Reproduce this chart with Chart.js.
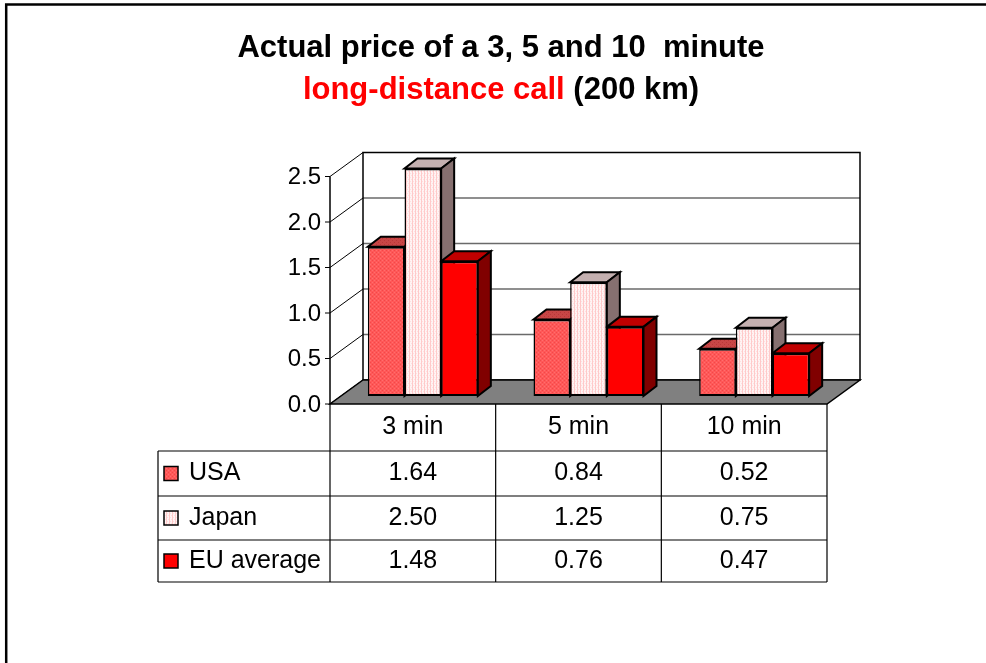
<!DOCTYPE html>
<html>
<head>
<meta charset="utf-8">
<script src="https://cdn.jsdelivr.net/npm/chart.js@4"></script>
<style>
  html, body { margin: 0; padding: 0; background: #ffffff; }
  canvas { display: block; }
</style>
</head>
<body>
<canvas id="chart" width="986" height="663"></canvas>
<script>
// Call prices (200 km long-distance), per call length
const categories = ['3 min', '5 min', '10 min'];
const seriesNames = ['USA', 'Japan', 'EU average'];
const usa = [1.64, 0.84, 0.52];
const japan = [2.50, 1.25, 0.75];
const euAverage = [1.48, 0.76, 0.47];
const yTicks = [0, 0.5, 1.0, 1.5, 2.0, 2.5];

const FONT = '"Liberation Sans", Arial, sans-serif';

// Small repeating fills for the textured faces
function makePattern(w, h, painter) {
  const c = document.createElement('canvas');
  c.width = w; c.height = h;
  const g = c.getContext('2d');
  painter(g);
  return document.getElementById('chart').getContext('2d').createPattern(c, 'repeat');
}
const usaFront = makePattern(4, 4, g => {
  g.fillStyle = '#ff5858'; g.fillRect(0, 0, 4, 4);
  g.fillStyle = '#f24848'; g.fillRect(0, 0, 1, 1); g.fillRect(2, 2, 1, 1);
  g.fillStyle = '#ff6e6e'; g.fillRect(2, 0, 1, 1); g.fillRect(0, 2, 1, 1);
});
const usaTop = makePattern(4, 4, g => {
  g.fillStyle = '#c84646'; g.fillRect(0, 0, 4, 4);
  g.fillStyle = '#b83838'; g.fillRect(0, 0, 1, 1); g.fillRect(2, 2, 1, 1);
});
const japanFront = makePattern(3, 4, g => {
  g.fillStyle = '#fff4f4'; g.fillRect(0, 0, 3, 4);
  g.fillStyle = '#ffcaca'; g.fillRect(1, 0, 1, 4);
  g.fillStyle = '#ffe0e0'; g.fillRect(2, 1, 1, 1); g.fillRect(0, 3, 1, 1);
});

const frontFill = [usaFront, japanFront, '#ff0000'];
const topFill = [usaTop, '#c4b0b0', '#c00000'];
const sideFill = ['#a03030', '#867070', '#800000'];

// Oblique depth offsets relative to the bar front plane
const FRONT = { dx: -10, dy: 8 };
const BACK = { dx: 23, dy: -16 };
const BAR_DEPTH = { dx: 13, dy: -10 };

const tableRows = { headerH: 47, rowH: [45, 44, 42], labelLeft: 158 };

const box3d = {
  id: 'box3d',
  beforeDatasetsDraw(chart) {
    const ctx = chart.ctx;
    const ys = chart.scales.y;
    const L = chart.chartArea.left, R = chart.chartArea.right;
    const y0 = ys.getPixelForValue(0);
    const yMax = ys.getPixelForValue(ys.max);
    ctx.save();
    ctx.lineJoin = 'miter';

    // back wall
    ctx.fillStyle = '#ffffff';
    ctx.fillRect(L + BACK.dx, yMax + BACK.dy, R - L, y0 - yMax);
    // gridlines on back wall
    ctx.strokeStyle = '#6a6a6a';
    ctx.lineWidth = 1.5;
    yTicks.forEach(v => {
      if (v === 0 || v === ys.max) return;
      const p = ys.getPixelForValue(v) + BACK.dy;
      ctx.beginPath();
      ctx.moveTo(L + BACK.dx, p);
      ctx.lineTo(R + BACK.dx, p);
      ctx.stroke();
    });
    ctx.strokeStyle = '#000';
    ctx.lineWidth = 1.5;
    ctx.strokeRect(L + BACK.dx, yMax + BACK.dy, R - L, y0 - yMax);

    // side wall with diagonal tick lines
    ctx.lineWidth = 1;
    yTicks.forEach(v => {
      const p = ys.getPixelForValue(v);
      ctx.beginPath();
      ctx.moveTo(L + FRONT.dx, p + FRONT.dy);
      ctx.lineTo(L + BACK.dx, p + BACK.dy);
      ctx.stroke();
      // tick mark
      ctx.beginPath();
      ctx.moveTo(L + FRONT.dx - 5, p + FRONT.dy);
      ctx.lineTo(L + FRONT.dx, p + FRONT.dy);
      ctx.stroke();
    });
    ctx.lineWidth = 1.5;
    ctx.beginPath();
    ctx.moveTo(L + FRONT.dx, y0 + FRONT.dy);
    ctx.lineTo(L + FRONT.dx, yMax + FRONT.dy);
    ctx.stroke();

    // floor
    ctx.beginPath();
    ctx.moveTo(L + FRONT.dx, y0 + FRONT.dy);
    ctx.lineTo(R + FRONT.dx, y0 + FRONT.dy);
    ctx.lineTo(R + BACK.dx, y0 + BACK.dy);
    ctx.lineTo(L + BACK.dx, y0 + BACK.dy);
    ctx.closePath();
    ctx.fillStyle = '#808080';
    ctx.fill();
    ctx.strokeStyle = '#000';
    ctx.lineWidth = 1.5;
    ctx.stroke();

    // tops and sides of the columns, left to right
    ctx.lineWidth = 2;
    for (let i = 0; i < categories.length; i++) {
      for (let d = 0; d < chart.data.datasets.length; d++) {
        const bar = chart.getDatasetMeta(d).data[i];
        const { x, y, base, width } = bar.getProps(['x', 'y', 'base', 'width'], true);
        const l = x - width / 2, r = x + width / 2;
        // top
        ctx.beginPath();
        ctx.moveTo(l, y);
        ctx.lineTo(r, y);
        ctx.lineTo(r + BAR_DEPTH.dx, y + BAR_DEPTH.dy);
        ctx.lineTo(l + BAR_DEPTH.dx, y + BAR_DEPTH.dy);
        ctx.closePath();
        ctx.fillStyle = topFill[d];
        ctx.fill();
        ctx.stroke();
        // side
        ctx.beginPath();
        ctx.moveTo(r, y);
        ctx.lineTo(r + BAR_DEPTH.dx, y + BAR_DEPTH.dy);
        ctx.lineTo(r + BAR_DEPTH.dx, base + BAR_DEPTH.dy);
        ctx.lineTo(r, base);
        ctx.closePath();
        ctx.fillStyle = sideFill[d];
        ctx.fill();
        ctx.stroke();
      }
    }
    ctx.restore();
  },
  afterDraw(chart) {
    const ctx = chart.ctx;
    const xs = chart.scales.x, ys = chart.scales.y;
    const L = chart.chartArea.left, R = chart.chartArea.right;
    const y0 = ys.getPixelForValue(0);
    ctx.save();

    // value axis labels on the front edge
    ctx.fillStyle = '#000';
    ctx.font = '24px ' + FONT;
    ctx.textAlign = 'right';
    ctx.textBaseline = 'middle';
    yTicks.forEach(v => {
      const p = ys.getPixelForValue(v) + FRONT.dy;
      ctx.fillText(v.toFixed(1), L + FRONT.dx - 9, p + 1);
    });

    // data table
    ctx.font = '25px ' + FONT;
    const catW = (R - L) / categories.length;
    const colEdges = categories.map((c, i) => xs.getPixelForValue(i) - catW / 2 + FRONT.dx);
    colEdges.push(xs.getPixelForValue(categories.length - 1) + catW / 2 + FRONT.dx);
    const top = y0 + FRONT.dy;
    const headerBottom = top + tableRows.headerH;
    const rowEdges = [headerBottom];
    tableRows.rowH.forEach(h => rowEdges.push(rowEdges[rowEdges.length - 1] + h));
    const bottom = rowEdges[rowEdges.length - 1];
    const left = tableRows.labelLeft;
    const right = colEdges[colEdges.length - 1];

    ctx.strokeStyle = '#000';
    ctx.lineWidth = 1.2;
    ctx.beginPath();
    colEdges.forEach(cx => { ctx.moveTo(cx, top); ctx.lineTo(cx, bottom); });
    ctx.moveTo(left, headerBottom); ctx.lineTo(left, bottom);
    rowEdges.forEach(ry => { ctx.moveTo(left, ry); ctx.lineTo(right, ry); });
    ctx.stroke();

    ctx.textAlign = 'center';
    ctx.textBaseline = 'middle';
    categories.forEach((c, i) => {
      ctx.fillText(c, xs.getPixelForValue(i) + FRONT.dx, (top + headerBottom) / 2);
    });
    chart.data.datasets.forEach((ds, d) => {
      const cy = (rowEdges[d] + rowEdges[d + 1]) / 2;
      ds.data.forEach((v, i) => {
        ctx.textAlign = 'center';
        ctx.fillText(v.toFixed(2), xs.getPixelForValue(i) + FRONT.dx, cy);
      });
      // legend key
      ctx.fillStyle = frontFill[d];
      ctx.fillRect(left + 6, cy - 7, 14, 14);
      ctx.strokeStyle = '#000';
      ctx.lineWidth = 1.5;
      ctx.strokeRect(left + 6, cy - 7, 14, 14);
      ctx.fillStyle = '#000';
      ctx.textAlign = 'left';
      ctx.fillText(ds.label, left + 31, cy);
    });

    // title
    ctx.font = 'bold 31px ' + FONT;
    ctx.textBaseline = 'alphabetic';
    ctx.textAlign = 'center';
    ctx.fillStyle = '#000';
    const cx = 501;
    ctx.fillText('Actual price of a 3, 5 and 10  minute', cx, 57);
    const partA = 'long-distance call', partB = ' (200 km)';
    const wA = ctx.measureText(partA).width, wB = ctx.measureText(partB).width;
    const startX = cx - (wA + wB) / 2;
    ctx.textAlign = 'left';
    ctx.fillStyle = '#ff0000';
    ctx.fillText(partA, startX, 99);
    ctx.fillStyle = '#000';
    ctx.fillText(partB, startX + wA, 99);

    // outer frame
    ctx.strokeStyle = '#000';
    ctx.lineWidth = 2.5;
    ctx.strokeRect(6.2, 4.5, 1200, 1000);
    ctx.restore();
  }
};

new Chart(document.getElementById('chart'), {
  type: 'bar',
  data: {
    labels: categories,
    datasets: [
      { label: seriesNames[0], data: usa, backgroundColor: frontFill[0] },
      { label: seriesNames[1], data: japan, backgroundColor: frontFill[1] },
      { label: seriesNames[2], data: euAverage, backgroundColor: frontFill[2] }
    ]
  },
  options: {
    responsive: false,
    animation: false,
    devicePixelRatio: 1,
    layout: { padding: { left: 340, right: 149, top: 168.5, bottom: 267 } },
    datasets: {
      bar: {
        categoryPercentage: 0.664,
        barPercentage: 1,
        borderColor: '#000',
        borderWidth: { top: 2, bottom: 2, left: 1.5, right: 1.5 },
        borderSkipped: false
      }
    },
    plugins: {
      legend: { display: false },
      tooltip: { enabled: false },
      title: { display: false }
    },
    scales: {
      x: { display: false, offset: true },
      y: { display: false, min: 0, max: 2.5 }
    }
  },
  plugins: [box3d]
});
</script>
</body>
</html>
